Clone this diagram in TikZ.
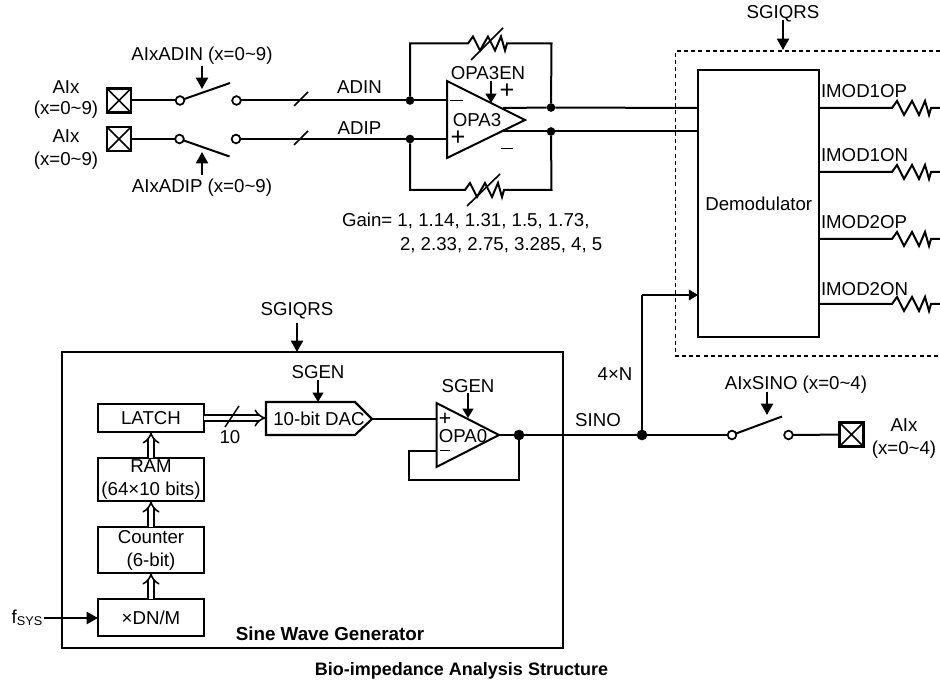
\documentclass[tikz,border=0pt]{standalone}
\usepackage{fontspec}
\setmainfont{Liberation Sans}
\usetikzlibrary{arrows.meta,calc}
\newcommand{\zigpath}{-- ++(5,-7) -- ++(7,14) -- ++(8,-14) -- ++(7,14) -- ++(6,-14) -- ++(4,14) -- ++(2,-7)}
\tikzset{
  x=0.75pt,y=-0.75pt,
  wire/.style={line width=1.5pt,line join=miter},
  sig/.style={wire,-{Triangle[length=8.5pt,width=9pt]}},
  smallsig/.style={wire,-{Triangle[length=7pt,width=8pt]}},
  bus/.style={line width=1.2pt,double,double distance=3.2pt,-{Implies[length=6pt]}},
  lbl/.style={inner sep=0pt,outer sep=0pt,font=\fontsize{14}{17.25}\selectfont,align=center},
  box/.style={draw,line width=1.6pt,inner sep=0pt,outer sep=0pt,minimum width=79.5pt,font=\fontsize{14}{17.25}\selectfont,align=center},
  pad/.style={draw,line width=2pt,inner sep=0pt,outer sep=0pt,minimum size=18pt,
    path picture={\draw[line width=1.3pt] (path picture bounding box.north west) -- (path picture bounding box.south east)
      (path picture bounding box.north east) -- (path picture bounding box.south west);}},
  term/.style={circle,draw,fill=white,line width=1.3pt,inner sep=0pt,outer sep=0pt,minimum size=6.5pt},
  dot/.style={circle,fill=black,inner sep=0pt,outer sep=0pt,minimum size=6.5pt},
  bigdot/.style={circle,fill=black,inner sep=0pt,outer sep=0pt,minimum size=8pt},
  bigsign/.style={inner sep=0pt,outer sep=0pt,font=\fontsize{19}{19}\selectfont},
  smallsign/.style={inner sep=0pt,outer sep=0pt,font=\fontsize{16}{16}\selectfont},
}
\begin{document}
\begin{tikzpicture}
\useasboundingbox[fill=white] (0,0) rectangle (940,684);

% --- Analog inputs ---
\node[lbl] (ain1) at (66,100) {AIx\\[-1.5pt](x=0\textasciitilde9)};
\node[lbl] (ain2) at (66,150) {AIx\\[0pt](x=0\textasciitilde9)};
\node[pad] (pad1) at (119,100.5) {};
\node[pad] (pad2) at (119,139) {};
\node[term] (s1a) at (180,100.5) {};
\node[term] (s1b) at (236.5,100.5) {};
\node[term] (s2a) at (179.5,139) {};
\node[term] (s2b) at (236,139) {};
\coordinate (s1t) at (230,83);
\coordinate (s2t) at (229.5,156.5);
\draw[wire] (pad1) -- (s1a);
\draw[wire] (pad2) -- (s2a);
\draw[wire] (s1a) -- (s1t);
\draw[wire] (s2a) -- (s2t);
\node[lbl] (ladin) at (202,56) {AIxADIN (x=0\textasciitilde9)};
\node[lbl] (ladip) at (202,188) {AIxADIP (x=0\textasciitilde9)};
\coordinate (a1s) at (202,66); \coordinate (a1e) at (202,89);
\coordinate (a2s) at (202,175); \coordinate (a2e) at (202,152);
\draw[sig] (a1s) -- (a1e);
\draw[sig] (a2s) -- (a2e);

% --- OPA3 ---
\coordinate (o3a) at (447,81); \coordinate (o3b) at (447,158); \coordinate (o3c) at (525,120);
\draw[wire] (o3a) -- (o3c) -- (o3b) -- cycle;
\node[lbl] (opa3) at (477,120) {OPA3};
\node[dot] (dn) at (410,100.5) {};
\node[dot] (dp) at (410,139) {};
\node[dot] (do) at (551,107.5) {};
\node[dot] (dq) at (551,131.5) {};
\coordinate (in3n) at (447,100.5); \coordinate (in3p) at (447,139);
\coordinate (ou3p) at (503,108); \coordinate (ou3n) at (503,131.5);
\draw[wire] (s1b) -- (dn) -- (in3n);
\draw[wire] (s2b) -- (dp) -- (in3p);
\coordinate (sl1a) at (294,106); \coordinate (sl1b) at (308,92);
\coordinate (sl2a) at (294,145); \coordinate (sl2b) at (308,131);
\draw[line width=1.1pt] (sl1a) -- (sl1b);
\draw[line width=1.1pt] (sl2a) -- (sl2b);
\node[lbl] (ladinw) at (359.5,87) {ADIN};
\node[lbl] (ladipw) at (359.5,128) {ADIP};
\node[lbl] (m3) at (456.5,100.5) {\rule{9.5pt}{1.3pt}};
\node[bigsign] (p3) at (458,138.5) {+};
\node[bigsign] (op3) at (507,91) {+};
\node[lbl] (om3) at (507,148.5) {\rule{9.5pt}{1.3pt}};
\node[lbl] (en3) at (488,73.5) {OPA3EN};
\coordinate (en3s) at (491,81); \coordinate (en3e) at (491,103);
\draw[smallsig] (en3s) -- (en3e);
% feedback
\coordinate (t1) at (410,43.5); \coordinate (t2) at (468,43.5); \coordinate (t3) at (551.5,43.5);
\draw[wire] (dn) -- (t1) -- (t2) \zigpath -- (t3) -- (do);
\coordinate (b1) at (410,190); \coordinate (b2) at (465,190); \coordinate (b3) at (551.5,190);
\draw[wire] (dp) -- (b1) -- (b2) \zigpath -- (b3) -- (dq);
\coordinate (ta1) at (471,60); \coordinate (ta2) at (503,28);
\coordinate (ba1) at (467,206); \coordinate (ba2) at (500,174);
\draw[wire,line width=1.2pt] (ta1) -- (ta2);
\draw[wire,line width=1.2pt] (ba1) -- (ba2);
\node[lbl,anchor=west,align=left] (gain) at (342,233) {Gain= 1, 1.14, 1.31, 1.5, 1.73,\\[0.75pt]\hspace*{43.5pt}2, 2.33, 2.75, 3.285, 4, 5};

% --- Demodulator ---
\coordinate (dbr1) at (940,51); \coordinate (dbl1) at (675.5,51);
\coordinate (dbl2) at (675.5,356); \coordinate (dbr2) at (940,356);
\draw[line width=1.2pt,dash pattern=on 3pt off 2.4pt] (dbr1) -- (dbl1) -- (dbl2) -- (dbr2);
\node[box,minimum width=91pt,minimum height=200.25pt] (demod) at (758.75,203.5) {Demodulator};
\node[lbl] (sgq1) at (783,14) {SGIQRS};
\coordinate (sgq1s) at (783,20); \coordinate (sgq1e) at (783,50);
\draw[sig] (sgq1s) -- (sgq1e);
\coordinate (di1) at (698,108); \coordinate (di2) at (698,131.5);
\draw[wire] (ou3p) -- (do) -- (di1);
\draw[wire] (ou3n) -- (dq) -- (di2);
\foreach \n/\y/\ly/\t in {1/108/91/IMOD1OP,2/172/155/IMOD1ON,3/239/222/IMOD2OP,4/304/289/IMOD2ON}{
  \node[lbl,anchor=west] (imod\n) at (821,\ly) {\t};
  \coordinate (im\n a) at (819.5,\y);
  \coordinate (im\n b) at (892,\y);
  \coordinate (im\n c) at (940,\y);
  \draw[wire] (im\n a) -- (im\n b) \zigpath -- (im\n c);
}

% --- Sine wave generator ---
\node[draw,line width=1.5pt,inner sep=0pt,outer sep=0pt,minimum width=375.75pt,minimum height=222pt] (sgbox) at (312.5,500) {};
\node[lbl] (sgq2) at (297,311) {SGIQRS};
\coordinate (sgq2s) at (297,323);
\draw[sig] (sgq2s) -- (sgq2s |- sgbox.north);
\node[box,minimum height=21pt] (latch) at (151,418) {LATCH};
\node[box,minimum height=32.25pt] (ram) at (151,479.5) {RAM\\[0pt](64×10 bits)};
\node[box,minimum height=34.5pt] (counter) at (151,550) {Counter\\[0pt](6-bit)};
\node[box,minimum height=27.75pt] (dnm) at (151,617.5) {×DN/M};
\draw[bus] (dnm) -- (counter);
\draw[bus] (counter) -- (ram);
\draw[bus] (ram) -- (latch);
\node[lbl] (fsys) at (27,618) {f\raisebox{-0.25ex}{\fontsize{9.5}{10}\selectfont SYS}};
\coordinate (fs) at (44,618);
\draw[sig] (fs) -- (dnm.west |- fs);

\coordinate (dac1) at (266,402); \coordinate (dac2) at (355,402); \coordinate (dac3) at (372,419);
\coordinate (dac4) at (355,435); \coordinate (dac5) at (266,435);
\draw[line width=1.6pt] (dac1) -- (dac2) -- (dac3) -- (dac4) -- (dac5) -- cycle;
\node[lbl] (dac) at (319,419) {10-bit DAC};
\coordinate (lw) at (204,418);\coordinate (de) at (266,418);
\draw[bus] (lw) -- (de);
\coordinate (sl3a) at (225,427); \coordinate (sl3b) at (239,406);
\draw[line width=1.1pt] (sl3a) -- (sl3b);
\node[lbl] (ten) at (230,437) {10};
\node[lbl] (sgen1) at (318,372.5) {SGEN};
\coordinate (sg1s) at (318,380); \coordinate (sg1e) at (318,402);
\draw[smallsig] (sg1s) -- (sg1e);

\coordinate (o0a) at (436.5,403); \coordinate (o0b) at (436.5,467); \coordinate (o0c) at (499,435);
\draw[wire] (o0a) -- (o0c) -- (o0b) -- cycle;
\node[lbl] (opa0) at (463,436) {OPA0};
\coordinate (in0p) at (436.5,419); \coordinate (in0n) at (436.5,451);
\draw[wire] (dac3) -- (in0p);
\node[smallsign] (p0) at (445,419) {+};
\node[lbl] (m0) at (445,450.5) {\rule{7pt}{1.2pt}};
\node[lbl] (sgen2) at (468,386) {SGEN};
\coordinate (sg2s) at (468,393); \coordinate (sg2e) at (468,418);
\draw[smallsig] (sg2s) -- (sg2e);
\node[bigdot] (d0) at (519,435) {};
\node[bigdot] (d1) at (642,435) {};
\coordinate (f1) at (519,480); \coordinate (f2) at (409,480); \coordinate (f3) at (409,451);
\draw[wire] (d0) -- (f1) -- (f2) -- (f3) -- (in0n);
\node[lbl] (sino) at (598,420) {SINO};
\node[lbl] (fourn) at (615,374) {4×N};
\node[term] (s3a) at (732,435) {};
\node[term] (s3b) at (788.5,435) {};
\coordinate (s3t) at (782,416.5);
\node[pad] (pad3) at (851.5,434.5) {};
\draw[wire] (o0c) -- (d0) -- (d1) -- (s3a);
\draw[wire] (s3a) -- (s3t);
\draw[wire] (s3b) -- (pad3);
\coordinate (d1t) at (642,295);
\draw[wire] (d1) -- (d1t);
\draw[smallsig] (d1t) -- (d1t -| demod.west);
\node[lbl] (lsino) at (796,385) {AIxSINO (x=0\textasciitilde4)};
\coordinate (a3s) at (767,392); \coordinate (a3e) at (767,415);
\draw[sig] (a3s) -- (a3e);
\node[lbl] (ain3) at (904,438.5) {AIx\\[0pt](x=0\textasciitilde4)};
\node[lbl,font=\fontsize{14.1}{16}\selectfont\bfseries] (sgt) at (330,634) {Sine Wave Generator};
\node[lbl,font=\fontsize{13.5}{16}\selectfont\bfseries] (title) at (461.5,671) {Bio-impedance Analysis Structure};
\end{tikzpicture}
\end{document}
